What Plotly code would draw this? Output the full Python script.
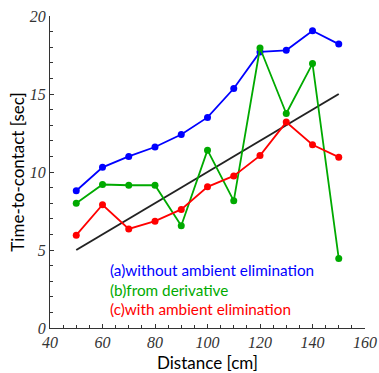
import plotly.graph_objects as go

distance = [50, 60, 70, 80, 90, 100, 110, 120, 130, 140, 150]
without_ambient = [8.8, 10.3, 11.0, 11.6, 12.4, 13.5, 15.35, 17.7, 17.8, 19.05, 18.2]
from_derivative = [8.0, 9.2, 9.15, 9.15, 6.55, 11.4, 8.15, 17.95, 13.75, 16.95, 4.45]
with_ambient = [5.95, 7.9, 6.35, 6.85, 7.6, 9.05, 9.75, 11.05, 13.2, 11.75, 10.95]
ideal_x = [50, 150]
ideal_y = [5, 15]

legend_labels = ["(a)without ambient elimination", "(b)from derivative", "(c)with ambient elimination"]
colors = ["#0000ff", "#00aa00", "#ff0000"]

W, H = 379, 373
L, R, T, B = 50, 14, 16, 45
pw, ph = W - L - R, H - T - B

fig = go.Figure()
fig.add_trace(go.Scatter(x=ideal_x, y=ideal_y, mode="lines",
                         line=dict(color="#222222", width=2), showlegend=False))
for ys, c in zip([without_ambient, from_derivative, with_ambient], colors):
    fig.add_trace(go.Scatter(x=distance, y=ys, mode="lines+markers",
                             line=dict(color=c, width=1.8),
                             marker=dict(color=c, size=7), showlegend=False))

for i, (lab, c) in enumerate(zip(legend_labels, colors)):
    px, py = 108, 270 + i * 19.5
    fig.add_annotation(x=(px - L) / pw, y=1 - (py - T) / ph, xref="paper", yref="paper", text=lab,
                       showarrow=False, font=dict(family="Lato", size=15.3, color=c),
                       xanchor="left", yanchor="middle")

tickfont = dict(family="Liberation Serif", size=16, color="#333333", style="italic")
fig.update_layout(
    width=W, height=H, margin=dict(l=L, r=R, t=T, b=B, autoexpand=False),
    plot_bgcolor="white", paper_bgcolor="white",
    xaxis=dict(range=[40, 160], dtick=20, tick0=40, showgrid=False, zeroline=False,
               showline=True, linecolor="#333333", linewidth=1.2, automargin=False,
               ticks="inside", ticklen=4, tickcolor="#333333",
               minor=dict(dtick=5, ticks="inside", ticklen=3, tickcolor="#333333"),
               tickfont=tickfont,
               title=dict(text="Distance [cm]", font=dict(family="Lato", size=17, color="black"), standoff=6)),
    yaxis=dict(range=[0, 20], dtick=5, showgrid=False, zeroline=False,
               showline=True, linecolor="#333333", linewidth=1.2, automargin=False,
               ticks="inside", ticklen=4, tickcolor="#333333",
               minor=dict(dtick=1, ticks="inside", ticklen=3, tickcolor="#333333"),
               tickfont=tickfont,
               title=dict(text="Time-to-contact [sec]", font=dict(family="Lato", size=17, color="black"), standoff=0)),
)
fig.write_html("out.html")
